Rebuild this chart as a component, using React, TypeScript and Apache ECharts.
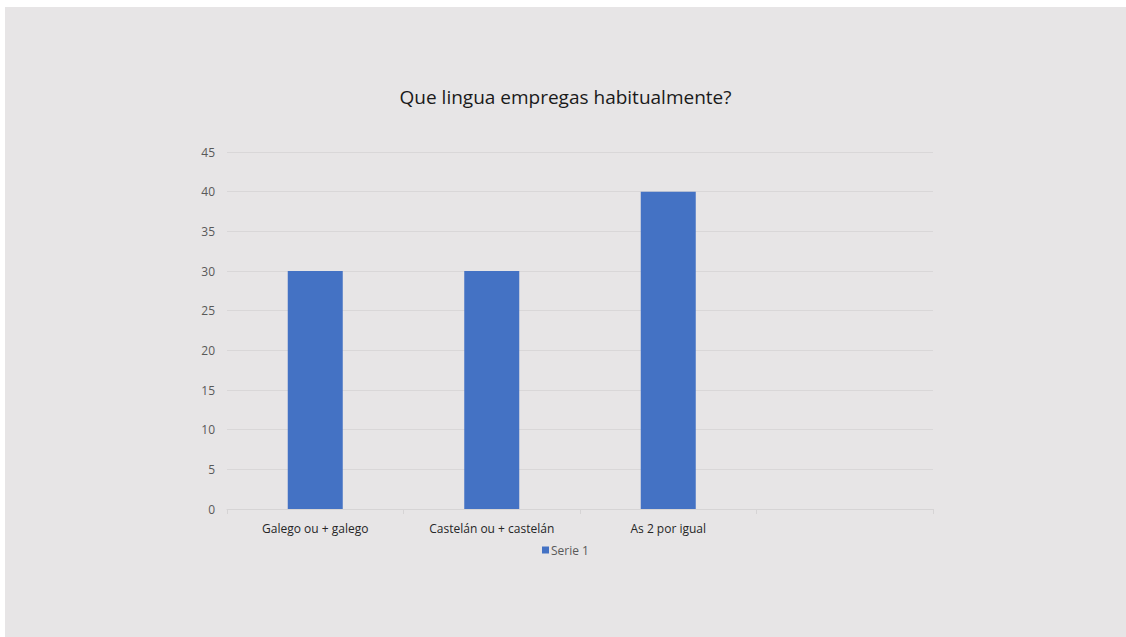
import React, { useEffect, useRef } from "react";
import * as echarts from "echarts";

const categories = ["Galego ou + galego", "Castelán ou + castelán", "As 2 por igual", ""];
const serie1 = [30, 30, 40, null];
const yTicks = { min: 0, max: 45, interval: 5 };

export default function App() {
  const ref = useRef<HTMLDivElement>(null);
  useEffect(() => {
    if (!ref.current) return;
    const chart = echarts.init(ref.current, undefined, { renderer: "svg" });
    chart.setOption({
      animation: false,
      backgroundColor: "#e7e5e6",
      textStyle: { fontFamily: "Open Sans" },
      title: {
        text: "Que lingua empregas habitualmente?",
        left: "center",
        top: 75,
        textStyle: { fontFamily: "Open Sans", fontSize: 19, fontWeight: "normal", color: "#1a1a1a" },
      },
      legend: {
        bottom: 76,
        left: "center",
        icon: "rect",
        itemWidth: 7,
        itemHeight: 7,
        itemGap: 10,
        textStyle: { fontFamily: "Open Sans", fontSize: 12, color: "#595959", padding: [0, 0, 0, -3] },
        data: ["Serie 1"],
      },
      grid: { left: 222, right: 193, top: 145, bottom: 128, containLabel: false },
      xAxis: {
        type: "category",
        data: categories,
        axisLine: { show: true, lineStyle: { color: "#d6d4d5", width: 1 } },
        axisTick: { show: true, length: 5, lineStyle: { color: "#d6d4d5" } },
        axisLabel: { color: "#262626", fontSize: 12, margin: 13, fontFamily: "Open Sans" },
      },
      yAxis: {
        type: "value",
        min: yTicks.min,
        max: yTicks.max,
        interval: yTicks.interval,
        axisLine: { show: false },
        axisTick: { show: false },
        axisLabel: { color: "#595959", fontSize: 12, margin: 12, fontFamily: "Open Sans" },
        splitLine: { lineStyle: { color: "#d9d7d8", width: 1 } },
      },
      series: [
        {
          name: "Serie 1",
          type: "bar",
          data: serie1,
          barWidth: 55,
          itemStyle: { color: "#4472c4" },
        },
      ],
    });
    return () => chart.dispose();
  }, []);
  return (
    <div style={{ position: "fixed", left: 0, top: 0, width: 1126, height: 637, background: "#ffffff" }}>
      <div ref={ref} style={{ position: "absolute", left: 5, top: 7, width: 1121, height: 630 }} />
    </div>
  );
}
